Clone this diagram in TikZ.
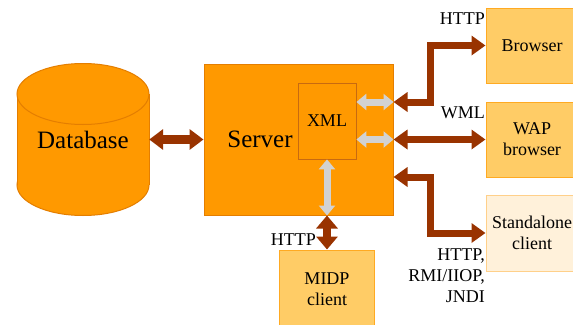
\documentclass[tikz,border=0pt]{standalone}
\usepackage{fontspec}
\setmainfont{Liberation Serif}
\newfontfamily\tms{Liberation Serif}
\usetikzlibrary{arrows.meta}
\definecolor{orng}{HTML}{FF9900}
\definecolor{orngline}{HTML}{E47E00}
\definecolor{xmlline}{HTML}{C86A10}
\definecolor{lightbox}{HTML}{FFCC66}
\definecolor{lightline}{HTML}{FFAA22}
\definecolor{paleBox}{HTML}{FFF1DA}
\definecolor{paleline}{HTML}{FFD08A}
\definecolor{brn}{HTML}{993300}
\definecolor{gry}{HTML}{D2D2D2}
\tikzset{
  bigtext/.style={font=\tms\fontsize{25}{28}\selectfont},
  smalltext/.style={font=\tms\fontsize{18}{21}\selectfont},
  client/.style={draw=lightline, fill=lightbox, line width=1pt, inner sep=0pt, smalltext, align=center},
  brownarrow/.style={draw=brn, line width=7pt, line join=miter, {Triangle[length=14pt,width=19pt]}-{Triangle[length=14pt,width=19pt]}},
  grayarrow/.style={draw=gry, line width=7pt, {Triangle[length=10pt,width=16pt]}-{Triangle[length=10pt,width=16pt]}},
}
\begin{document}
\begin{tikzpicture}[x=1pt,y=-1pt]
\useasboundingbox (0,0) rectangle (573,324);
\fill[white] (0,0) rectangle (573,324);
% Database cylinder
\fill[orng, draw=orngline, line width=1pt] (83,185) ellipse [x radius=66, y radius=30.5];
\fill[orng] (17,94) rectangle (149,185);
\draw[orngline, line width=1pt] (17,94) -- (17,185) (149,94) -- (149,185);
\fill[orng, draw=orngline, line width=1pt] (83,94) ellipse [x radius=66, y radius=30.5];
\node[bigtext, minimum width=132pt, minimum height=60pt, inner sep=0pt] (db) at (83,139.5) {Database};
% Server
\node[draw=orngline, fill=orng, line width=1pt, minimum width=189pt, minimum height=151pt, inner sep=0pt] (server) at (298.5,139.5) {};
\node[bigtext] (servertext) at (260,139.5) {Server};
\node[draw=xmlline, fill=orng, line width=0.8pt, minimum width=58pt, minimum height=76pt, inner sep=0pt, smalltext] (xml) at (327,121) {XML};
% Clients
\node[client, minimum width=92pt, minimum height=75pt] (browser) at (532,45.5) {Browser};
\node[client, minimum width=92pt, minimum height=75pt] (wap) at (532,139.5) {WAP\\browser};
\node[client, draw=paleline, fill=paleBox, minimum width=92pt, minimum height=76pt] (standalone) at (532,233) {Standalone\\client};
\node[client, minimum width=95pt, minimum height=78pt] (midp) at (327,289) {MIDP\\client};
% Coordinates
\coordinate (r1) at ([yshift=37.5pt]server.east);
\coordinate (r3) at ([yshift=-37.5pt]server.east);
\coordinate (sb) at (xml.south |- server.south);
% Connectors
\draw[brownarrow, line width=9pt, {Triangle[length=14pt,width=20pt]}-{Triangle[length=14pt,width=20pt]}] (db.east) -- (server.west);
\draw[grayarrow] (xml.east |- r1) -- (r1);
\draw[grayarrow] (xml.east |- server.east) -- (server.east);
\draw[grayarrow] (xml.south) -- (sb);
\draw[brownarrow] (r1) -- ++(37,0) |- (browser.west);
\draw[brownarrow] (server.east) -- (wap.west);
\draw[brownarrow] (r3) -- ++(37,0) |- (standalone.west);
\draw[brownarrow, line width=8pt, {Triangle[length=13pt,width=21pt]}-{Triangle[length=13pt,width=21pt]}] (sb) -- (midp.north);
% Labels
\node[smalltext, anchor=east, inner sep=0pt] (lhttp1) at (485,19) {HTTP};
\node[smalltext, anchor=east, inner sep=0pt] (lwml) at (485,113) {WML};
\node[smalltext, anchor=east, inner sep=0pt, align=right] (lproto) at (485,276) {HTTP,\\RMI/IIOP,\\JNDI};
\node[smalltext, anchor=east, inner sep=0pt] (lhttp2) at (316,240) {HTTP};
\end{tikzpicture}
\end{document}
